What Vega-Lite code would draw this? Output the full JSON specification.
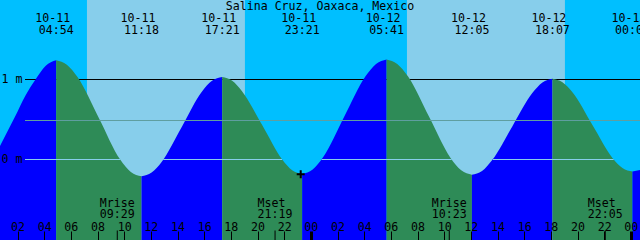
{
  "$schema": "https://vega.github.io/schema/vega-lite/v6.json",
  "width": 640,
  "height": 240,
  "padding": 0,
  "autosize": {"type": "none"},
  "background": "#00BFFF",
  "config": {
    "view": {"stroke": null},
    "axis": {"labelOverlap": false, "labelBound": false, "labelFlush": false, "grid": false, "title": null},
    "text": {"font": "DejaVu Sans Mono", "fontSize": 11.6, "color": "black"}
  },
  "layer": [
    {
      "data": {"values": [
        {"h": 0.6875, "h2": 7.21, "light": "night"},
        {"h": 7.21, "h2": 19.06, "light": "day"},
        {"h": 19.06, "h2": 31.21, "light": "night"},
        {"h": 31.21, "h2": 43.06, "light": "day"},
        {"h": 43.06, "h2": 48.6875, "light": "night"}
      ]},
      "mark": {"type": "rect"},
      "encoding": {
        "x": {"field": "h", "type": "quantitative", "title": null, "scale": {"domain": [0.6875, 48.6875], "nice": false, "zero": false}},
        "x2": {"field": "h2"},
        "y": {"datum": 1.99375, "type": "quantitative", "title": null, "scale": {"domain": [-1.00625, 1.99375], "nice": false, "zero": false}},
        "y2": {"datum": -1.00625},
        "fill": {"field": "light", "type": "nominal", "scale": {"domain": ["night", "day"], "range": ["#00BFFF", "#87CEEB"]}, "legend": null}
      }
    },
    {
      "data": {"values": [{"h": 2.5625, "h2": 48.6875, "v": 1}]},
      "mark": {"type": "rule", "color": "black", "strokeWidth": 1},
      "encoding": {
        "x": {"field": "h", "type": "quantitative", "title": null},
        "x2": {"field": "h2"},
        "y": {"field": "v", "type": "quantitative", "title": null}
      }
    },
    {
      "data": {"values": [
        {"seg": "A", "dir": "rise", "h": 0.6875, "v": 0.17},
        {"seg": "A", "dir": "rise", "h": 1.8, "v": 0.53},
        {"seg": "A", "dir": "rise", "h": 2.6, "v": 0.8},
        {"seg": "A", "dir": "rise", "h": 3.35, "v": 1.0},
        {"seg": "A", "dir": "rise", "h": 4.1, "v": 1.17},
        {"seg": "A", "dir": "rise", "h": 4.9, "v": 1.24},
        {"seg": "B", "dir": "fall", "h": 4.9, "v": 1.24},
        {"seg": "B", "dir": "fall", "h": 5.7, "v": 1.185},
        {"seg": "B", "dir": "fall", "h": 6.5, "v": 1.03},
        {"seg": "B", "dir": "fall", "h": 8.1, "v": 0.52},
        {"seg": "B", "dir": "fall", "h": 9.7, "v": 0.0},
        {"seg": "B", "dir": "fall", "h": 10.5, "v": -0.155},
        {"seg": "B", "dir": "fall", "h": 11.3, "v": -0.21},
        {"seg": "C", "dir": "rise", "h": 11.3, "v": -0.21},
        {"seg": "C", "dir": "rise", "h": 12.06, "v": -0.163},
        {"seg": "C", "dir": "rise", "h": 12.81, "v": -0.03},
        {"seg": "C", "dir": "rise", "h": 14.33, "v": 0.41},
        {"seg": "C", "dir": "rise", "h": 15.84, "v": 0.85},
        {"seg": "C", "dir": "rise", "h": 16.59, "v": 0.983},
        {"seg": "C", "dir": "rise", "h": 17.35, "v": 1.03},
        {"seg": "D", "dir": "fall", "h": 17.35, "v": 1.03},
        {"seg": "D", "dir": "fall", "h": 18.1, "v": 0.984},
        {"seg": "D", "dir": "fall", "h": 18.85, "v": 0.85},
        {"seg": "D", "dir": "fall", "h": 20.35, "v": 0.43},
        {"seg": "D", "dir": "fall", "h": 21.85, "v": 0.0},
        {"seg": "D", "dir": "fall", "h": 22.6, "v": -0.134},
        {"seg": "D", "dir": "fall", "h": 23.35, "v": -0.18},
        {"seg": "E", "dir": "rise", "h": 23.35, "v": -0.18},
        {"seg": "E", "dir": "rise", "h": 24.14, "v": -0.125},
        {"seg": "E", "dir": "rise", "h": 24.93, "v": 0.03},
        {"seg": "E", "dir": "rise", "h": 26.52, "v": 0.54},
        {"seg": "E", "dir": "rise", "h": 28.1, "v": 1.04},
        {"seg": "E", "dir": "rise", "h": 28.89, "v": 1.195},
        {"seg": "E", "dir": "rise", "h": 29.68, "v": 1.25},
        {"seg": "F", "dir": "fall", "h": 29.68, "v": 1.25},
        {"seg": "F", "dir": "fall", "h": 30.48, "v": 1.195},
        {"seg": "F", "dir": "fall", "h": 31.28, "v": 1.04},
        {"seg": "F", "dir": "fall", "h": 32.88, "v": 0.53},
        {"seg": "F", "dir": "fall", "h": 34.48, "v": 0.02},
        {"seg": "F", "dir": "fall", "h": 35.28, "v": -0.135},
        {"seg": "F", "dir": "fall", "h": 36.08, "v": -0.19},
        {"seg": "G", "dir": "rise", "h": 36.08, "v": -0.19},
        {"seg": "G", "dir": "rise", "h": 36.84, "v": -0.144},
        {"seg": "G", "dir": "rise", "h": 37.59, "v": -0.01},
        {"seg": "G", "dir": "rise", "h": 39.1, "v": 0.41},
        {"seg": "G", "dir": "rise", "h": 40.61, "v": 0.83},
        {"seg": "G", "dir": "rise", "h": 41.37, "v": 0.964},
        {"seg": "G", "dir": "rise", "h": 42.12, "v": 1.01},
        {"seg": "H", "dir": "fall", "h": 42.12, "v": 1.01},
        {"seg": "H", "dir": "fall", "h": 42.87, "v": 0.966},
        {"seg": "H", "dir": "fall", "h": 43.62, "v": 0.84},
        {"seg": "H", "dir": "fall", "h": 45.12, "v": 0.43},
        {"seg": "H", "dir": "fall", "h": 46.62, "v": 0.02},
        {"seg": "H", "dir": "fall", "h": 47.37, "v": -0.106},
        {"seg": "H", "dir": "fall", "h": 48.12, "v": -0.15},
        {"seg": "I", "dir": "rise", "h": 48.12, "v": -0.15},
        {"seg": "I", "dir": "rise", "h": 48.6875, "v": -0.13}
      ]},
      "mark": {"type": "area", "interpolate": "monotone"},
      "encoding": {
        "x": {
          "field": "h", "type": "quantitative", "title": null,
          "axis": {
            "orient": "top", "offset": -240, "values": [2,4,6,8,10,12,14,16,18,20,22,24,26,28,30,32,34,36,38,40,42,44,46,48],
            "tickCount": 100,
            "labelExpr": "(datum.value % 24 < 10 ? '0' : '') + (datum.value % 24)",
            "tickSize": 9, "tickColor": "black",
            "tickWidth": {"condition": {"test": "datum.value % 24 === 0", "value": 3}, "value": 1},
            "labelPadding": 1, "labelBaseline": "alphabetic", "labelFont": "DejaVu Sans Mono", "labelFontSize": 11.6, "labelColor": "black",
            "domain": false, "grid": false, "title": null, "zindex": 1, "labelOverlap": false, "labelBound": false, "labelFlush": false, "labelSeparation": 0
          }
        },
        "y": {
          "field": "v", "type": "quantitative", "title": null,
          "axis": {
            "orient": "left", "offset": -25, "values": [0, 1], "tickCount": 10, "labelExpr": "datum.value + ' m'",
            "ticks": false, "domain": false, "grid": false, "title": null, "labelPadding": 3,
            "labelFont": "DejaVu Sans Mono", "labelFontSize": 11.6, "labelColor": "black", "zindex": 1
          }
        },
        "y2": {"datum": -1.00625},
        "color": {"field": "dir", "type": "nominal", "scale": {"domain": ["rise", "fall"], "range": ["#0000FF", "#2E8B57"]}, "legend": null},
        "detail": {"field": "seg"}
      }
    },
    {
      "data": {"values": [{"h": 2.5625, "h2": 48.6875, "v": 0.4875}]},
      "mark": {"type": "rule", "color": "#5F9EA0", "strokeWidth": 1},
      "encoding": {
        "x": {"field": "h", "type": "quantitative", "title": null},
        "x2": {"field": "h2"},
        "y": {"field": "v", "type": "quantitative", "title": null}
      }
    },
    {
      "data": {"values": [
        {"h": 2.5625, "h2": 9.71, "v": 0},
        {"h": 12.93, "h2": 21.84, "v": 0},
        {"h": 24.81, "h2": 34.56, "v": 0},
        {"h": 37.66, "h2": 46.71, "v": 0}
      ]},
      "mark": {"type": "rule", "color": "#87CEEB", "strokeWidth": 1},
      "encoding": {
        "x": {"field": "h", "type": "quantitative", "title": null},
        "x2": {"field": "h2"},
        "y": {"field": "v", "type": "quantitative", "title": null}
      }
    },
    {
      "data": {"values": [
        {"kind": "Mrise", "time": "09:29", "h": 9.483},
        {"kind": "Mset", "time": "21:19", "h": 21.317},
        {"kind": "Mrise", "time": "10:23", "h": 34.383},
        {"kind": "Mset", "time": "22:05", "h": 46.083}
      ]},
      "layer": [
        {
          "mark": {"type": "rule", "color": "black", "strokeWidth": 1},
          "encoding": {
            "x": {"field": "h", "type": "quantitative", "title": null},
            "y": {"datum": -0.8875, "type": "quantitative", "title": null},
            "y2": {"datum": -1.00625}
          }
        },
        {
          "mark": {"type": "text", "align": "left", "baseline": "alphabetic", "dx": -17.5},
          "encoding": {
            "x": {"field": "h", "type": "quantitative", "title": null},
            "y": {"datum": -0.5875, "type": "quantitative", "title": null},
            "text": {"field": "kind"}
          }
        },
        {
          "mark": {"type": "text", "align": "center", "baseline": "alphabetic"},
          "encoding": {
            "x": {"field": "h", "type": "quantitative", "title": null},
            "y": {"datum": -0.7275, "type": "quantitative", "title": null},
            "text": {"field": "time"}
          }
        }
      ]
    },
    {
      "data": {"values": [
        {"date": "10-11", "time": "04:54", "h": 4.9},
        {"date": "10-11", "time": "11:18", "h": 11.3},
        {"date": "10-11", "time": "17:21", "h": 17.35},
        {"date": "10-11", "time": "23:21", "h": 23.35},
        {"date": "10-12", "time": "05:41", "h": 29.683},
        {"date": "10-12", "time": "12:05", "h": 36.083},
        {"date": "10-12", "time": "18:07", "h": 42.117},
        {"date": "10-13", "time": "00:07", "h": 48.117}
      ]},
      "layer": [
        {
          "mark": {"type": "text", "align": "center", "baseline": "alphabetic", "dx": -3.5},
          "encoding": {
            "x": {"field": "h", "type": "quantitative", "title": null},
            "y": {"datum": 1.71875, "type": "quantitative", "title": null},
            "text": {"field": "date"}
          }
        },
        {
          "mark": {"type": "text", "align": "center", "baseline": "alphabetic"},
          "encoding": {
            "x": {"field": "h", "type": "quantitative", "title": null},
            "y": {"datum": 1.56875, "type": "quantitative", "title": null},
            "text": {"field": "time"}
          }
        }
      ]
    },
    {
      "data": {"values": [{"name": "Salina Cruz, Oaxaca, Mexico"}]},
      "mark": {"type": "text", "align": "center", "baseline": "alphabetic"},
      "encoding": {
        "x": {"datum": 24.6875, "type": "quantitative", "title": null},
        "y": {"datum": 1.86875, "type": "quantitative", "title": null},
        "text": {"field": "name"}
      }
    },
    {
      "data": {"values": [{"h": 23.24, "v": -0.185}]},
      "mark": {"type": "point", "shape": "M-1,0L1,0M0,-1L0,1", "filled": false, "stroke": "black", "strokeWidth": 2, "size": 64, "opacity": 1},
      "encoding": {
        "x": {"field": "h", "type": "quantitative", "title": null},
        "y": {"field": "v", "type": "quantitative", "title": null}
      }
    }
  ],
  "resolve": {"scale": {"color": "independent", "fill": "independent"}}
}
